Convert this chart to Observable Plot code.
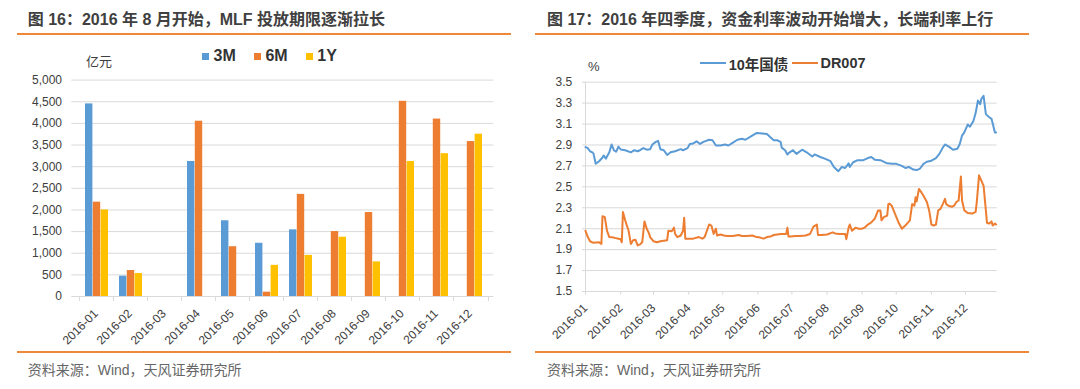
<!DOCTYPE html>
<html><head><meta charset="utf-8">
<script src="https://cdn.jsdelivr.net/npm/d3@7"></script>
<script src="https://cdn.jsdelivr.net/npm/@observablehq/plot@0.6"></script>
<style>
body{margin:0;background:#fff;}
#root{position:relative;width:1080px;height:389px;overflow:hidden;font-family:"Liberation Sans","Noto Sans CJK SC",sans-serif;background:#fff;}
.abs{position:absolute;white-space:nowrap;}
.title{font-size:16px;font-weight:bold;color:#404040;}
.hr{position:absolute;height:2px;background:#F0883A;}
.src{font-size:14px;color:#666;}
.unit{font-size:13px;color:#404040;}
.leg{position:absolute;display:flex;align-items:center;font-weight:bold;color:#333;white-space:nowrap;}
svg{position:absolute;top:0;}
</style></head><body><div id="root"></div>
<script>
// ---------- Left chart data: MLF 投放 (亿元) ----------
const months = ["2016-01","2016-02","2016-03","2016-04","2016-05","2016-06","2016-07","2016-08","2016-09","2016-10","2016-11","2016-12"];
const mlf3M = [4450, 470, null, 3120, 1750, 1230, 1540, null, null, null, null, null];
const mlf6M = [2180, 600, null, 4050, 1150, 100, 2360, 1500, 1940, 4510, 4100, 3580];
const mlf1Y = [2000, 530, null, null, null, 720, 950, 1370, 800, 3120, 3300, 3750];
const seriesNames = ["3M", "6M", "1Y"];
const seriesColors = ["#5B9BD5", "#ED7D31", "#FFC000"];
const yTicksLeft = [0, 500, 1000, 1500, 2000, 2500, 3000, 3500, 4000, 4500, 5000];

// ---------- Right chart data: 10年国债 & DR007 (%) ----------
const daysBond = [0,2,4,6,7,9,12,15,16,18,21,23,25,27,29,31,35,40,43,46,48,51,54,57,59,62,64,66,69,72,75,79,84,86,90,92,95,98,101,104,109,112,115,119,123,126,129,134,138,141,147,151,156,160,163,166,169,172,173,176,178,180,183,186,191,195,200,202,207,211,216,219,223,226,229,232,233,236,240,245,249,252,255,260,266,270,274,279,282,285,289,292,295,298,301,305,309,312,315,317,321,324,328,330,332,334,337,339,342,344,346,348,349,351,353,356,358,361,362];
const bond10y = [2.88,2.87,2.84,2.83,2.82,2.72,2.745,2.78,2.80,2.77,2.83,2.905,2.85,2.835,2.885,2.857,2.85,2.83,2.85,2.84,2.85,2.87,2.855,2.86,2.905,2.93,2.94,2.86,2.85,2.805,2.83,2.84,2.86,2.85,2.87,2.91,2.915,2.935,2.91,2.93,2.95,2.945,2.895,2.895,2.905,2.895,2.915,2.95,2.96,2.95,2.99,3.015,3.01,3.005,2.975,2.945,2.945,2.93,2.875,2.85,2.81,2.83,2.85,2.815,2.855,2.83,2.79,2.81,2.785,2.77,2.745,2.69,2.65,2.69,2.68,2.725,2.69,2.735,2.755,2.755,2.775,2.785,2.76,2.755,2.725,2.72,2.72,2.70,2.68,2.69,2.665,2.66,2.675,2.72,2.74,2.75,2.775,2.815,2.875,2.905,2.88,2.855,2.865,2.91,2.99,3.02,3.095,3.075,3.13,3.205,3.325,3.29,3.34,3.37,3.195,3.165,3.15,3.02,3.02];
const daysDR = [0,2,4,7,12,14,15,17,19,21,25,29,31,32,33,35,38,40,42,44,46,48,50,52,54,56,57,60,63,66,72,73,76,78,79,81,84,86,87,88,91,95,100,103,105,107,109,111,113,115,116,119,122,125,130,135,138,142,147,151,154,157,160,163,166,172,177,178,179,181,185,189,194,198,201,204,205,208,213,218,220,224,229,230,232,233,235,238,241,244,246,249,252,255,258,260,261,263,266,267,268,270,273,276,279,282,286,288,290,291,292,294,296,298,301,303,305,307,309,311,313,315,317,318,320,323,325,327,329,331,332,334,337,341,344,345,347,349,351,353,354,356,358,359,361,362];
const dr007 = [2.08,2.02,1.98,1.965,1.97,1.955,2.22,2.21,2.08,2.02,2.015,2.005,2.00,1.97,2.26,2.18,2.08,1.955,1.99,1.995,1.94,1.95,1.97,2.17,2.10,2.055,2.02,1.98,1.97,1.98,1.99,2.08,2.075,2.11,2.05,2.02,2.035,2.08,2.205,2.005,2.005,2.005,2.02,2.005,2.02,2.08,2.14,2.13,2.05,2.10,2.035,2.045,2.035,2.03,2.03,2.04,2.03,2.03,2.035,2.02,2.015,2.005,2.02,2.025,2.04,2.05,2.05,2.11,2.025,2.025,2.03,2.03,2.035,2.05,2.12,2.14,2.04,2.04,2.045,2.065,2.055,2.05,2.05,2.00,2.11,2.14,2.08,2.11,2.10,2.10,2.11,2.14,2.16,2.195,2.275,2.275,2.18,2.21,2.225,2.335,2.34,2.32,2.24,2.16,2.10,2.13,2.18,2.335,2.32,2.40,2.36,2.48,2.45,2.415,2.355,2.275,2.14,2.13,2.14,2.275,2.29,2.335,2.385,2.335,2.32,2.31,2.32,2.355,2.37,2.60,2.37,2.275,2.25,2.245,2.26,2.355,2.61,2.56,2.51,2.275,2.155,2.15,2.17,2.13,2.15,2.14];
const yTicksRight = [1.5, 1.7, 1.9, 2.1, 2.3, 2.5, 2.7, 2.9, 3.1, 3.3, 3.5];
const lineNames = ["10年国债", "DR007"];
const lineColors = ["#5B9BD5", "#ED7D31"];

const root = document.getElementById("root");
const FONT = "Liberation Sans, Noto Sans CJK SC, sans-serif";
const GRID = "#d9d9d9";
const TXT = "#404040";

function addText(text, cls, left, cy, lh) {
  const d = document.createElement("div");
  d.className = "abs " + cls;
  d.textContent = text;
  d.style.left = left + "px";
  d.style.top = (cy - lh / 2) + "px";
  d.style.lineHeight = lh + "px";
  root.appendChild(d);
  return d;
}
function addRule(left, top, width) {
  const d = document.createElement("div");
  d.className = "hr";
  d.style.left = left + "px"; d.style.top = top + "px"; d.style.width = width + "px";
  root.appendChild(d);
}

// ---------- Left chart ----------
const tableL = [];
months.forEach((m, i) => {
  [mlf3M, mlf6M, mlf1Y].forEach((arr, k) => {
    if (arr[i] != null) tableL.push({month: m, series: seriesNames[k], value: arr[i]});
  });
});
const WL = 540, HL = 389, mlL = 74.1, mrL = 46.7, mtL = 79.6, mbL = 93;
const stepL = (WL - mlL - mrL) / months.length;
const padL = 0.33;
const bwL = stepL * (1 - padL);
const third = bwL / 3;
const barMarks = seriesNames.map((s, k) =>
  Plot.barY(tableL.filter(d => d.series === s), {
    x: "month", y: "value", fill: seriesColors[k],
    insetLeft: k * third, insetRight: (2 - k) * third
  })
);
const left = Plot.plot({
  width: WL, height: HL,
  marginLeft: mlL, marginRight: mrL, marginTop: mtL, marginBottom: mbL,
  style: {fontFamily: FONT, background: "transparent"},
  x: {type: "band", domain: months, paddingInner: padL, paddingOuter: padL / 2, axis: null},
  y: {domain: [0, 5000], axis: null},
  marks: [
    Plot.ruleY(yTicksLeft, {stroke: GRID, strokeWidth: 1, insetLeft: -2.8}),
    Plot.ruleX(months, {x: d => d, dx: -stepL / 2, y1: 0, y2: -115, stroke: GRID}),
    Plot.ruleX([months[months.length - 1]], {x: d => d, dx: stepL / 2, y1: 0, y2: -115, stroke: GRID}),
    ...barMarks,
    Plot.text(yTicksLeft, {y: d => d, text: d => d3.format(",")(d), frameAnchor: "left", textAnchor: "end", dx: -12.6, fontSize: 12, fill: TXT}),
    Plot.text(months, {x: d => d, y: 0, text: d => d, rotate: -45, textAnchor: "end", dx: -1, dy: 15, fontSize: 12, fill: TXT})
  ]
});
left.style.left = "0px";
root.appendChild(left);

// ---------- Right chart ----------
const t0 = new Date(Date.UTC(2016, 0, 1));
const toDate = d => new Date(t0.getTime() + d * 864e5);
const parseMonth = d3.utcParse("%Y-%m");
const monthDates = months.map(parseMonth);
const bondData = daysBond.map((d, i) => ({date: toDate(d), value: bond10y[i]}));
const drData = daysDR.map((d, i) => ({date: toDate(d), value: dr007[i]}));
const WR = 540, HR = 389, mlR = 45, mrR = 83.3, mtR = 81.7, mbR = 98;
const right = Plot.plot({
  width: WR, height: HR,
  marginLeft: mlR, marginRight: mrR, marginTop: mtR, marginBottom: mbR,
  style: {fontFamily: FONT, background: "transparent"},
  x: {type: "utc", domain: [t0, toDate(363)], axis: null},
  y: {domain: [1.5, 3.5], axis: null},
  marks: [
    Plot.ruleY(yTicksRight, {stroke: GRID, strokeWidth: 1, insetLeft: -3}),
    Plot.ruleX([t0], {stroke: GRID, y1: 1.5, y2: 3.5}),
    Plot.ruleX(monthDates, {x: d => d, y1: 1.5, y2: 1.465, stroke: GRID}),
    Plot.line(bondData, {x: "date", y: "value", stroke: lineColors[0], strokeWidth: 2}),
    Plot.line(drData, {x: "date", y: "value", stroke: lineColors[1], strokeWidth: 2}),
    Plot.text(yTicksRight, {y: d => d, text: d => d3.format(".1f")(d), frameAnchor: "left", textAnchor: "end", dx: -13.3, fontSize: 12, fill: TXT}),
    Plot.text(monthDates, {x: d => d, y: 1.5, text: (d, i) => months[i], rotate: -45, textAnchor: "end", dx: 0, dy: 14.5, fontSize: 12, fill: TXT})
  ]
});
right.style.left = "540px";
root.appendChild(right);

// ---------- Titles, rules, legends, notes ----------
addText("图 16：2016 年 8 月开始，MLF 投放期限逐渐拉长", "title", 27.7, 20, 22);
addText("图 17：2016 年四季度，资金利率波动开始增大，长端利率上行", "title", 547, 20, 22);
addRule(16.5, 33, 494.2);
addRule(535, 33, 494);
addRule(16.5, 350.7, 494.2);
addRule(535, 350.7, 494);
addText("资料来源：Wind，天风证券研究所", "src", 27.7, 369.5, 20);
addText("资料来源：Wind，天风证券研究所", "src", 547, 369.5, 20);
addText("亿元", "unit", 86, 61.6, 18);
addText("%", "unit", 588, 66.7, 18);

// left legend
const legL = document.createElement("div");
legL.className = "leg";
legL.style.left = "202px"; legL.style.top = (56 - 10) + "px"; legL.style.height = "20px";
legL.style.fontSize = "16px";
seriesNames.forEach((s, k) => {
  const sw = document.createElement("span");
  sw.style.cssText = `display:inline-block;width:7px;height:7px;background:${seriesColors[k]};margin-right:4.6px;`;
  const tx = document.createElement("span");
  tx.textContent = s;
  tx.style.marginRight = k < seriesNames.length - 1 ? "18px" : "0";
  legL.appendChild(sw); legL.appendChild(tx);
});
root.appendChild(legL);

// right legend
const legR = document.createElement("div");
legR.className = "leg";
legR.style.left = "700px"; legR.style.top = (63.3 - 10) + "px"; legR.style.height = "20px";
legR.style.fontSize = "14.5px";
lineNames.forEach((s, k) => {
  const sw = document.createElement("span");
  sw.style.cssText = `display:inline-block;width:26px;height:2px;background:${lineColors[k]};margin-right:2.7px;`;
  const tx = document.createElement("span");
  tx.textContent = s;
  tx.style.marginRight = k < lineNames.length - 1 ? "3.4px" : "0";
  legR.appendChild(sw); legR.appendChild(tx);
});
root.appendChild(legR);
</script></body></html>
